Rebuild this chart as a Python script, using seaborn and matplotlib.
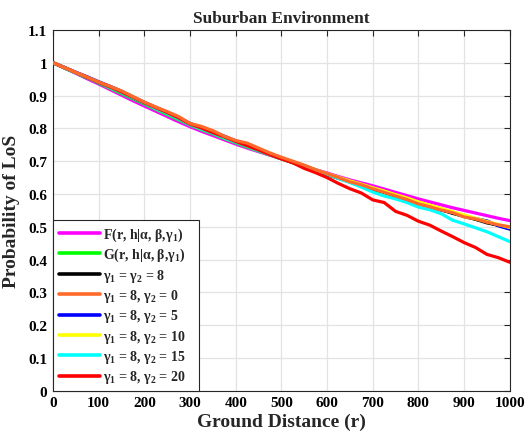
import numpy as np
import pandas as pd
import matplotlib
matplotlib.use("Agg")
import matplotlib.pyplot as plt
import seaborn as sns

distance = [0, 25, 50, 75, 100, 125, 150, 175, 200, 225, 250, 275, 300, 325, 350, 375, 400,
            425, 450, 475, 500, 525, 550, 575, 600, 625, 650, 675, 700, 725, 750, 775, 800,
            825, 850, 875, 900, 925, 950, 975, 1000]

F_curve = [1.000, 0.984, 0.968, 0.951, 0.935, 0.918, 0.901, 0.884, 0.868, 0.852, 0.836, 0.820, 0.805,
           0.791, 0.778, 0.765, 0.752, 0.740, 0.729, 0.718, 0.707, 0.696, 0.685, 0.674, 0.664, 0.653,
           0.643, 0.634, 0.625, 0.615, 0.605, 0.595, 0.585, 0.576, 0.567, 0.558, 0.550, 0.542, 0.534,
           0.526, 0.519]
G_curve = [1.000, 0.985, 0.969, 0.954, 0.938, 0.922, 0.906, 0.890, 0.874, 0.858, 0.842, 0.826, 0.810,
           0.796, 0.783, 0.769, 0.756, 0.743, 0.731, 0.719, 0.707, 0.695, 0.683, 0.671, 0.660, 0.648,
           0.637, 0.626, 0.615, 0.604, 0.593, 0.583, 0.572, 0.562, 0.552, 0.542, 0.532, 0.523, 0.514,
           0.505, 0.497]
g8_8 = [1.000, 0.984, 0.969, 0.954, 0.939, 0.925, 0.910, 0.893, 0.876, 0.862, 0.846, 0.830, 0.812,
        0.800, 0.786, 0.774, 0.759, 0.748, 0.733, 0.721, 0.708, 0.697, 0.683, 0.672, 0.659, 0.648,
        0.637, 0.626, 0.614, 0.606, 0.593, 0.582, 0.571, 0.562, 0.552, 0.541, 0.532, 0.523, 0.512,
        0.505, 0.494]
g8_0 = [1.000, 0.985, 0.970, 0.956, 0.941, 0.928, 0.914, 0.897, 0.880, 0.865, 0.851, 0.836, 0.815,
        0.806, 0.793, 0.776, 0.763, 0.755, 0.740, 0.725, 0.712, 0.700, 0.688, 0.674, 0.662, 0.650,
        0.637, 0.628, 0.616, 0.605, 0.594, 0.583, 0.570, 0.561, 0.551, 0.543, 0.530, 0.524, 0.514,
        0.506, 0.500]
g8_5 = [1.000, 0.986, 0.971, 0.957, 0.942, 0.928, 0.913, 0.896, 0.879, 0.864, 0.849, 0.833, 0.815,
        0.802, 0.789, 0.776, 0.762, 0.750, 0.736, 0.722, 0.709, 0.697, 0.686, 0.673, 0.661, 0.650,
        0.639, 0.628, 0.617, 0.606, 0.596, 0.584, 0.573, 0.563, 0.551, 0.544, 0.533, 0.525, 0.518,
        0.503, 0.493]
g8_10 = [1.000, 0.985, 0.970, 0.955, 0.940, 0.926, 0.911, 0.895, 0.877, 0.862, 0.847, 0.831, 0.813,
         0.800, 0.788, 0.774, 0.760, 0.747, 0.734, 0.721, 0.709, 0.698, 0.686, 0.674, 0.662, 0.651,
         0.640, 0.630, 0.619, 0.609, 0.598, 0.588, 0.576, 0.566, 0.556, 0.546, 0.536, 0.526, 0.516,
         0.507, 0.498]
g8_15 = [1.000, 0.984, 0.969, 0.954, 0.939, 0.924, 0.909, 0.893, 0.876, 0.860, 0.845, 0.829, 0.811,
         0.798, 0.785, 0.771, 0.758, 0.745, 0.732, 0.720, 0.708, 0.698, 0.686, 0.674, 0.660, 0.647,
         0.635, 0.621, 0.606, 0.594, 0.585, 0.574, 0.560, 0.552, 0.540, 0.520, 0.509, 0.497, 0.485,
         0.470, 0.455]
g8_20 = [1.000, 0.985, 0.970, 0.955, 0.940, 0.926, 0.911, 0.895, 0.878, 0.863, 0.848, 0.832, 0.813,
         0.801, 0.787, 0.774, 0.760, 0.747, 0.734, 0.720, 0.707, 0.695, 0.678, 0.665, 0.650, 0.632,
         0.616, 0.603, 0.582, 0.574, 0.547, 0.535, 0.517, 0.505, 0.487, 0.470, 0.452, 0.437, 0.416,
         0.406, 0.392]

labels = [r'F(r, h|$\boldsymbol{α}$, $\boldsymbol{β}$,$\mathbf{γ_1}$)',
          r'G(r, h|$\boldsymbol{α}$, $\boldsymbol{β}$,$\mathbf{γ_1}$)   ',
          r'$\mathbf{γ_1}$ = $\mathbf{γ_2}$ = 8',
          r'$\mathbf{γ_1}$ = 8, $\mathbf{γ_2}$ = 0',
          r'$\mathbf{γ_1}$ = 8, $\mathbf{γ_2}$ = 5',
          r'$\mathbf{γ_1}$ = 8, $\mathbf{γ_2}$ = 10',
          r'$\mathbf{γ_1}$ = 8, $\mathbf{γ_2}$ = 15',
          r'$\mathbf{γ_1}$ = 8, $\mathbf{γ_2}$ = 20']
series = [F_curve, G_curve, g8_8, g8_0, g8_5, g8_10, g8_15, g8_20]
colors = ['#FF00FF', '#00FF00', '#000000', '#FF6A2A', '#0000FF', '#FFFF00', '#00FFFF', '#FF0000']
zorders = [3, 3, 3, 6, 3, 3, 4, 5]

sns.set_style("white")
plt.rcParams['font.family'] = ['Liberation Serif', 'DejaVu Serif']
plt.rcParams['mathtext.fontset'] = 'custom'
plt.rcParams['mathtext.rm'] = 'Liberation Serif'
plt.rcParams['mathtext.bf'] = 'Liberation Serif:bold'
plt.rcParams['mathtext.it'] = 'Liberation Serif:italic'
plt.rcParams['mathtext.bfit'] = 'Liberation Serif:bold:italic'

fig = plt.figure(figsize=(5.25, 4.35), dpi=100)
ax = fig.add_axes([0.101, 0.099, 0.870, 0.830])

for vals, lab, col, z in zip(series, labels, colors, zorders):
    df = pd.DataFrame({'r': distance, 'p': vals})
    sns.lineplot(data=df, x='r', y='p', ax=ax, color=col, lw=2.3, label=lab, zorder=z)

ax.set_xlim(0, 1000)
ax.set_ylim(0, 1.1)
ax.set_xticks(np.arange(0, 1001, 100))
ax.set_yticks(np.arange(0, 1.11, 0.1))
ax.set_yticklabels(['0', '0.1', '0.2', '0.3', '0.4', '0.5', '0.6', '0.7', '0.8', '0.9', '1', '1.1'])
ax.grid(True, color='#E3E3E3', lw=0.9)
ax.set_axisbelow(True)
ax.tick_params(direction='in', top=True, right=True, length=4, width=0.8, colors='#262626',
               labelsize=11, pad=4)
for lbl in ax.get_xticklabels() + ax.get_yticklabels():
    lbl.set_fontweight('bold')
    lbl.set_color('black')
for s in ax.spines.values():
    s.set_color('#262626')
    s.set_linewidth(0.8)

ax.set_title('Suburban Environment', fontsize=12.5, fontweight='bold', pad=6)
ax.set_xlabel('Ground Distance (r)', fontsize=14, fontweight='bold', labelpad=2)
ax.set_ylabel('Probability of LoS', fontsize=14, fontweight='bold', labelpad=6)

leg = ax.legend(loc='lower left', bbox_to_anchor=(0.001, 0.0), prop={'weight': 'bold', 'size': 10},
                handlelength=2.95, handletextpad=0.25, borderaxespad=0.0, labelspacing=0.24,
                borderpad=0.4, fancybox=False, framealpha=1)
leg.get_frame().set_edgecolor('#262626')
leg.get_frame().set_linewidth(0.8)
for line in leg.get_lines():
    line.set_linewidth(2.6)

fig.savefig('out.png', dpi=100)
